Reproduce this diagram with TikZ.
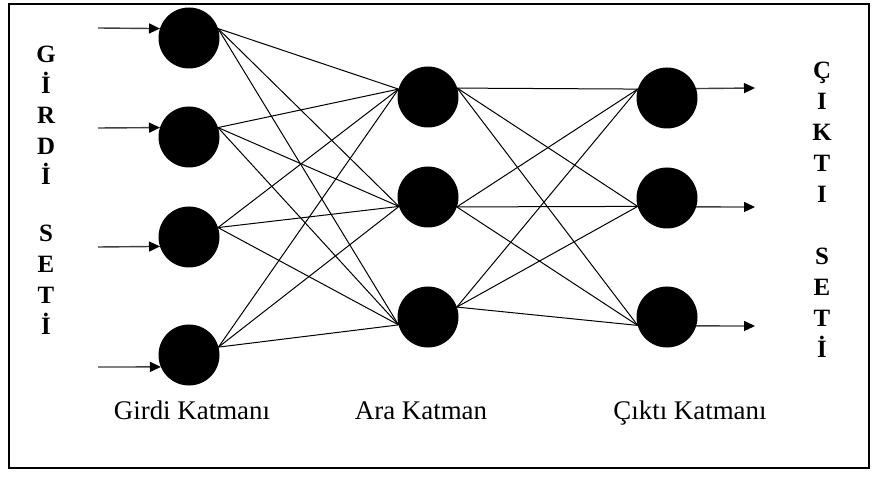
\documentclass[tikz,border=0pt]{standalone}
\usepackage{fontspec}
\setmainfont{Liberation Serif}
\usetikzlibrary{arrows.meta}

\tikzset{
  neuron/.style={circle, fill=black, draw=none, minimum size=61bp, inner sep=0pt, outer sep=0pt},
  link/.style={line width=1bp, black},
  flow/.style={line width=1.4bp, black!75, -{Triangle[length=11bp, width=10bp, fill=black, color=black]}},
  setletter/.style={font=\bfseries\fontsize{25}{25}\selectfont, inner sep=0pt, anchor=base},
  layerlabel/.style={font=\fontsize{27}{27}\selectfont, inner sep=0pt, anchor=base},
}

\begin{document}
\begin{tikzpicture}[x=1bp, y=-1bp]
\useasboundingbox (0,0) rectangle (876,480);
\fill[white] (0,0) rectangle (876,480);

% outer frame
\draw[line width=2bp] (9,4) rectangle (869,468);

% input layer
\node[neuron] (i1) at (189,38) {};
\node[neuron] (i2) at (189,137) {};
\node[neuron] (i3) at (189,237) {};
\node[neuron] (i4) at (189,355) {};

% hidden layer
\node[neuron] (h1) at (428,97) {};
\node[neuron] (h2) at (428,197) {};
\node[neuron] (h3) at (428,317) {};

% output layer
\node[neuron] (o1) at (667,98) {};
\node[neuron] (o2) at (667,198) {};
\node[neuron] (o3) at (667,317) {};

% attachment points on the neurons
\coordinate (i1r) at (i1.18);
\coordinate (i2r) at (i2.18);
\coordinate (i3r) at (i3.18);
\coordinate (i4r) at (i4.15);
\coordinate (h1l) at (h1.165);
\coordinate (h2l) at (h2.198);
\coordinate (h3l) at (h3.195);
\coordinate (h1r) at (h1.17);
\coordinate (h2r) at (h2.-19);
\coordinate (h3r) at (h3.19);
\coordinate (o1l) at (o1.163);
\coordinate (o2l) at (o2.196);
\coordinate (o3l) at (o3.196);

% input -> hidden
\foreach \a in {i1r,i2r,i3r,i4r}
  \foreach \b in {h1l,h2l,h3l}
    \draw[link] (\a) -- (\b);

% hidden -> output
\foreach \a in {h1r,h2r,h3r}
  \foreach \b in {o1l,o2l,o3l}
    \draw[link] (\a) -- (\b);

% incoming arrows
\coordinate (s1) at (98,28);
\coordinate (s2) at (98,128);
\coordinate (s3) at (98,247);
\coordinate (s4) at (98,367);
\draw[flow] (s1) -- (i1.162);
\draw[flow] (s2) -- (i2.162);
\draw[flow] (s3) -- (i3.198);
\draw[flow] (s4) -- (i4.203);

% outgoing arrows
\coordinate (e1) at (755,88);
\coordinate (e2) at (755,207);
\coordinate (e3) at (755,326);
\draw[flow] (o1.18) -- (e1);
\draw[flow] (o2.-17) -- (e2);
\draw[flow] (o3.-17) -- (e3);

% vertical captions, left
\foreach \ch [count=\k] in {G,İ,R,D,İ}
  \node[setletter] (gl\k) at (46,{63+30.5*(\k-1)}) {\ch};
\foreach \ch [count=\k] in {S,E,T,İ}
  \node[setletter] (sl\k) at (46,{242+31*(\k-1)}) {\ch};

% vertical captions, right
\foreach \ch [count=\k] in {Ç,I,K,T,I}
  \node[setletter] (cr\k) at (822,{79+31*(\k-1)}) {\ch};
\foreach \ch [count=\k] in {S,E,T,İ}
  \node[setletter] (sr\k) at (822,{265+30.7*(\k-1)}) {\ch};

% layer names
\node[layerlabel] (lin) at (192,419) {Girdi Katmanı};
\node[layerlabel] (lhid) at (421,419) {Ara Katman};
\node[layerlabel] (lout) at (690,419) {Çıktı Katmanı};
\end{tikzpicture}
\end{document}
